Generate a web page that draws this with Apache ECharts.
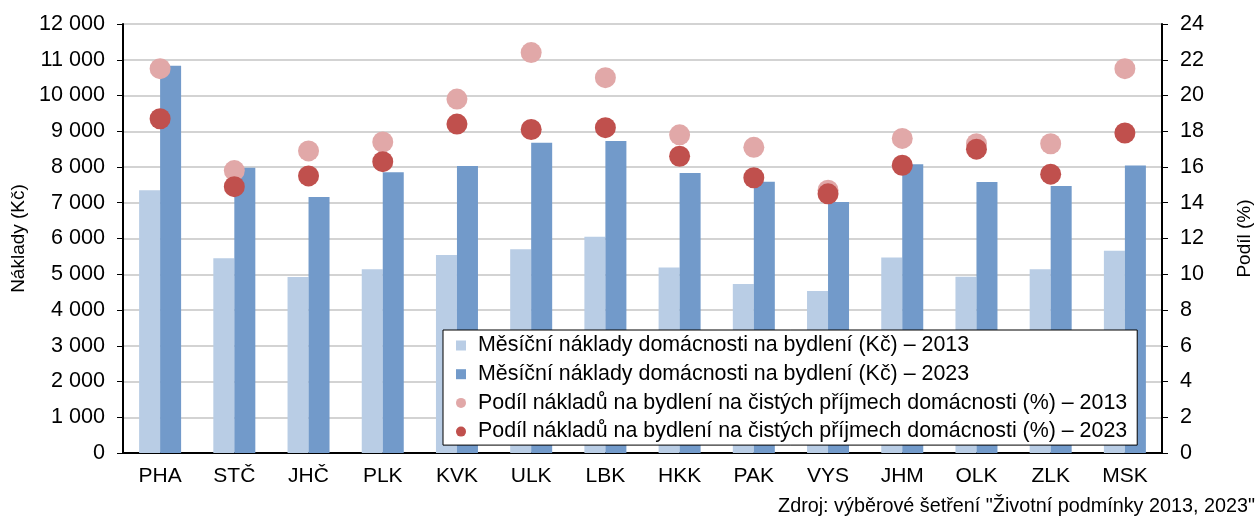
<!DOCTYPE html>
<html>
<head>
<meta charset="utf-8">
<script src="https://cdn.jsdelivr.net/npm/echarts@6/dist/echarts.min.js"></script>
<style>
  html, body { margin: 0; padding: 0; background: #fff; }
  #chart { width: 1256px; height: 520px; }
</style>
</head>
<body>
<div id="chart"></div>
<script>
var regions = ['PHA', 'STČ', 'JHČ', 'PLK', 'KVK', 'ULK', 'LBK', 'HKK', 'PAK', 'VYS', 'JHM', 'OLK', 'ZLK', 'MSK']
// měsíční náklady (Kč)
var costs2013 = [7350, 5450, 4920, 5140, 5540, 5700, 6050, 5190, 4730, 4530, 5470, 4930, 5140, 5660]
var costs2023 = [10830, 7980, 7160, 7850, 8030, 8680, 8730, 7830, 7590, 7020, 8080, 7580, 7470, 8040]
// podíl na čistých příjmech (%)
var share2013 = [21.5, 15.8, 16.9, 17.4, 19.8, 22.4, 21.0, 17.8, 17.1, 14.7, 17.6, 17.3, 17.3, 21.5]
var share2023 = [18.7, 14.9, 15.5, 16.3, 18.4, 18.1, 18.2, 16.6, 15.4, 14.5, 16.1, 17.0, 15.6, 17.9]

var names = [
  'Měsíční náklady domácnosti na bydlení (Kč) – 2013',
  'Měsíční náklady domácnosti na bydlení (Kč) – 2023',
  'Podíl nákladů na bydlení na čistých příjmech domácnosti (%) – 2013',
  'Podíl nákladů na bydlení na čistých příjmech domácnosti (%) – 2023'
]

var font = 'Liberation Sans, Arial, sans-serif'
var chart = echarts.init(document.getElementById('chart'))

var option = {
  animation: false,
  textStyle: { fontFamily: font, color: '#000' },
  grid: {
    left: 123,
    right: 94,
    top: 24,
    bottom: 67,
    outerBoundsMode: 'none'
  },
  legend: {
    orient: 'vertical',
    left: 443,
    top: 330,
    backgroundColor: '#fff',
    borderColor: '#000',
    borderWidth: 1,
    padding: [5, 10, 3, 13],
    itemGap: 7.7,
    itemWidth: 10,
    itemHeight: 10,
    textStyle: { fontFamily: font, fontSize: 21.4, color: '#000', lineHeight: 20, padding: [0, 0, 0, 7] },
    data: [
      { name: names[0], icon: 'rect' },
      { name: names[1], icon: 'rect' },
      { name: names[2], icon: 'circle' },
      { name: names[3], icon: 'circle' }
    ]
  },
  xAxis: [
    {
      type: 'category',
      data: regions,
      axisLine: { lineStyle: { color: '#000', width: 2 } },
      axisTick: { show: false },
      axisLabel: { color: '#000', fontSize: 21, margin: 13, fontFamily: font }
    },
    {
      // top frame line
      type: 'category',
      position: 'top',
      data: regions,
      axisLine: { lineStyle: { color: '#000', width: 2 } },
      axisTick: { show: false },
      axisLabel: { show: false }
    }
  ],
  yAxis: [
    {
      type: 'value',
      min: 0,
      max: 12000,
      interval: 1000,
      name: 'Náklady (Kč)',
      nameLocation: 'middle',
      nameGap: 94,
      nameTextStyle: { fontSize: 19, color: '#000', fontFamily: font },
      axisLine: { show: true, lineStyle: { color: '#000', width: 2 } },
      axisTick: { show: true, length: 6, lineStyle: { color: '#000' } },
      axisLabel: {
        color: '#000',
        fontSize: 21.6,
        margin: 18,
        fontFamily: font,
        formatter: function (v) {
          return String(v).replace(/\B(?=(\d{3})+(?!\d))/g, ' ')
        }
      },
      splitLine: { lineStyle: { color: '#c4c4c4', width: 1.5 } }
    },
    {
      type: 'value',
      min: 0,
      max: 24,
      interval: 2,
      name: 'Podíl (%)',
      nameLocation: 'middle',
      nameGap: 73,
      nameTextStyle: { fontSize: 19, color: '#000', fontFamily: font },
      axisLine: { show: true, lineStyle: { color: '#000', width: 2 } },
      axisTick: { show: true, length: 6, lineStyle: { color: '#000' } },
      axisLabel: { color: '#000', fontSize: 21.6, margin: 18, fontFamily: font },
      splitLine: { show: false }
    }
  ],
  series: [
    {
      name: names[0],
      type: 'bar',
      data: costs2013,
      barWidth: 21,
      barGap: '0%',
      itemStyle: { color: '#b9cde5' }
    },
    {
      name: names[1],
      type: 'bar',
      data: costs2023,
      barWidth: 21,
      barGap: '0%',
      itemStyle: { color: '#729aca' }
    },
    {
      name: names[2],
      type: 'scatter',
      yAxisIndex: 1,
      data: share2013,
      symbolSize: 21,
      z: 3,
      itemStyle: { color: '#e1a8a8', opacity: 1 }
    },
    {
      name: names[3],
      type: 'scatter',
      yAxisIndex: 1,
      data: share2023,
      symbolSize: 21,
      z: 4,
      itemStyle: { color: '#c0504d', opacity: 1 }
    }
  ],
  graphic: [
    {
      type: 'text',
      right: 1,
      top: 497,
      style: {
        text: 'Zdroj: výběrové šetření "Životní podmínky 2013, 2023"',
        fontFamily: font,
        fontSize: 19.8,
        fill: '#000'
      }
    }
  ]
}

chart.setOption(option)
</script>
</body>
</html>
